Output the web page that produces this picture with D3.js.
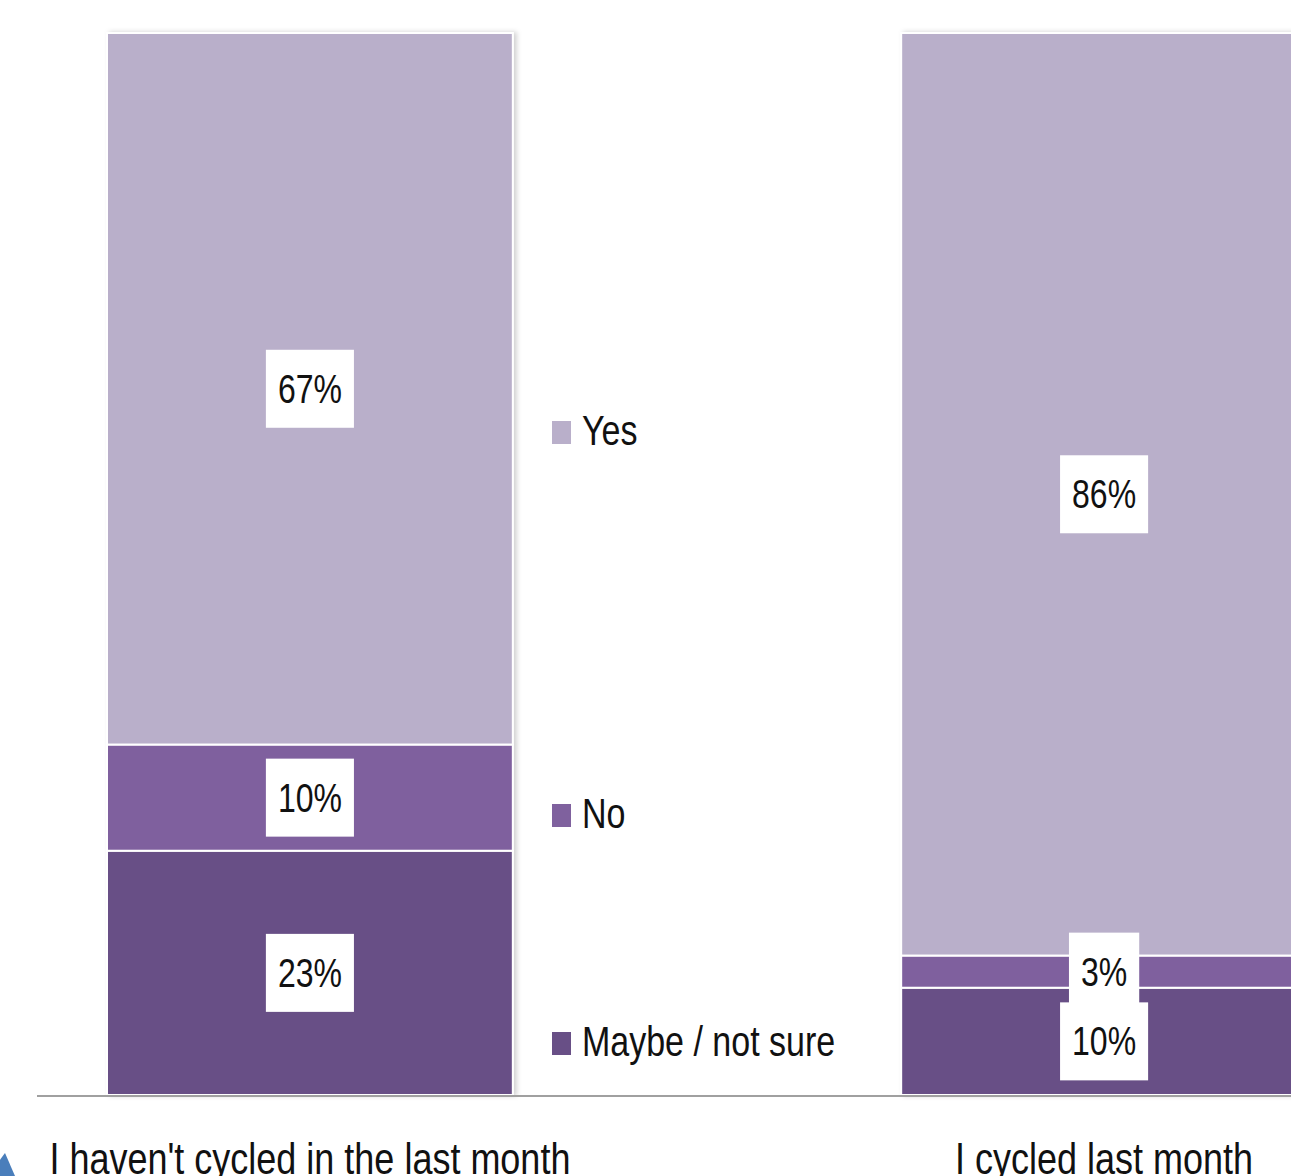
<!DOCTYPE html>
<html lang="en">
<head>
    <meta charset="UTF-8">
    <title>Cycling chart</title>
    <script src="https://d3js.org/d3.v7.min.js"></script>
    <style>
        body { margin: 0; background: #fff; overflow: hidden; }
        text { font-family: "Liberation Sans", Arial, sans-serif; fill: #111; }
        .axis--x path, .axis--x line { display: none; }
    </style>
</head>
<body>
    <svg width="1291" height="1176"></svg>

    <script>
        // data
        const categories = ["I haven't cycled in the last month", "I cycled last month"];
        const series = ["Maybe / not sure", "No", "Yes"];
        const maybeValues = [23, 10];
        const noValues = [10, 3];
        const yesValues = [67, 86];
        const colors = ["#684f86", "#7f619e", "#b9afca"];

        const rows = categories.map((c, i) => ({
            cat: c,
            "Maybe / not sure": maybeValues[i],
            "No": noValues[i],
            "Yes": yesValues[i]
        }));

        const svg = d3.select("svg");
        const plotTop = 33, plotBase = 1095;
        const sy = 1.25; // text is drawn a bit tall in the original

        const x = d3.scaleBand()
            .domain(categories)
            .range([107, 1307])
            .paddingInner(0.489);

        const y = d3.scaleLinear()
            .domain([0, 1])
            .range([plotBase, plotTop]);

        const color = d3.scaleOrdinal().domain(series).range(colors);

        const stack = d3.stack().keys(series).offset(d3.stackOffsetExpand);
        const layers = stack(rows);

        const defs = svg.append("defs");
        const f = defs.append("filter").attr("id", "shadow")
            .attr("x", "-5%").attr("y", "-5%").attr("width", "110%").attr("height", "110%");
        f.append("feDropShadow").attr("dx", 3).attr("dy", 0)
            .attr("stdDeviation", 2.5).attr("flood-color", "#000").attr("flood-opacity", 0.18);

        // bars
        const bars = svg.append("g").attr("filter", "url(#shadow)");
        bars.selectAll("g")
            .data(layers)
            .enter().append("g")
            .attr("fill", d => color(d.key))
            .selectAll("rect")
            .data(d => d)
            .enter().append("rect")
            .attr("x", d => x(d.data.cat))
            .attr("y", d => y(d[1]))
            .attr("width", x.bandwidth())
            .attr("height", d => y(d[0]) - y(d[1]))
            .attr("stroke", "#fff")
            .attr("stroke-width", 2);

        // baseline
        svg.append("line")
            .attr("x1", 37).attr("x2", 1291)
            .attr("y1", plotBase + 1).attr("y2", plotBase + 1)
            .attr("stroke", "#a0a0a0").attr("stroke-width", 2);

        // value labels with white boxes
        const labels = svg.append("g");
        layers.forEach(layer => {
            layer.forEach(d => {
                const cx = x(d.data.cat) + x.bandwidth() / 2;
                const cy = (y(d[0]) + y(d[1])) / 2;
                const v = d.data[layer.key];
                const g = labels.append("g");
                const box = g.append("rect").attr("fill", "#fff");
                const t = g.append("text")
                    .attr("text-anchor", "middle")
                    .attr("font-size", 32)
                    .attr("transform", `translate(${cx},${cy + 14}) scale(1,${sy})`)
                    .text(v + "%");
                const w = t.node().getComputedTextLength();
                box.attr("x", cx - w / 2 - 12).attr("width", w + 24)
                    .attr("y", cy - 39).attr("height", 78);
            });
        });

        // category labels
        const axis = svg.append("g")
            .attr("class", "axis axis--x")
            .attr("transform", `translate(0,${plotBase})`)
            .call(d3.axisBottom(x).tickSize(0).tickSizeOuter(0));
        axis.selectAll("text")
            .attr("font-size", 36)
            .attr("y", 0).attr("dy", 0)
            .attr("transform", `translate(0,79) scale(1,${sy})`);

        // legend
        const legendY = { "Yes": 432, "No": 815, "Maybe / not sure": 1043 };
        const legend = svg.append("g");
        series.forEach(s => {
            const ly = legendY[s];
            legend.append("rect")
                .attr("x", 552).attr("y", ly - 11)
                .attr("width", 19).attr("height", 23)
                .attr("fill", color(s));
            legend.append("text")
                .attr("font-size", 34)
                .attr("transform", `translate(582,${ly + 13}) scale(1,${sy})`)
                .text(s);
        });

        // bit of slide decoration in the corner
        svg.append("path")
            .attr("d", "M-12,1176 L5,1153 L15,1176 Z")
            .attr("fill", "#4a7ebb");
    </script>
</body>
</html>
